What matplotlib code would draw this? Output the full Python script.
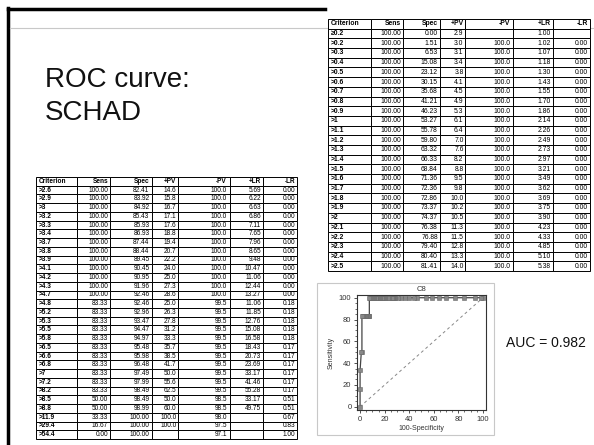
import numpy as np
import matplotlib
matplotlib.use("Agg")
from matplotlib import pyplot as plt
from matplotlib.table import Table
from matplotlib.lines import Line2D
from matplotlib.patches import Rectangle
from matplotlib.ticker import MultipleLocator

plt.rcParams['font.family'] = ['Liberation Sans', 'DejaVu Sans']

# criterion table (MedCalc style), first 25 rows go in the right table
criterion = ["≥0.2", ">0.2", ">0.3", ">0.4", ">0.5", ">0.6", ">0.7", ">0.8", ">0.9", ">1",
             ">1.1", ">1.2", ">1.3", ">1.4", ">1.5", ">1.6", ">1.7", ">1.8", ">1.9", ">2",
             ">2.1", ">2.2", ">2.3", ">2.4", ">2.5",
             ">2.6", ">2.9", ">3", ">3.2", ">3.3", ">3.4", ">3.7", ">3.8", ">3.9", ">4.1",
             ">4.2", ">4.3", ">4.7", ">4.8", ">5.2", ">5.3", ">5.5", ">5.8", ">6.5", ">6.6",
             ">6.8", ">7", ">7.2", ">8.2", ">8.5", ">8.8", ">11.9", ">29.4", ">54.4"]
sens = [100.0] * 38 + [83.33] * 11 + [50.0, 50.0, 33.33, 16.67, 0.0]
spec = [0.00, 1.51, 6.53, 15.08, 23.12, 30.15, 35.68, 41.21, 46.23, 53.27,
        55.78, 59.80, 63.32, 66.33, 68.84, 71.36, 72.36, 72.86, 73.37, 74.37,
        76.38, 76.88, 79.40, 80.40, 81.41,
        82.41, 83.92, 84.92, 85.43, 85.93, 86.93, 87.44, 88.44, 89.45, 90.45,
        90.95, 91.96, 92.46, 92.46, 92.96, 93.47, 94.47, 94.97, 95.48, 95.98,
        96.48, 97.49, 97.99, 98.49, 98.49, 98.99, 100.00, 100.00, 100.00]
ppv = [2.9, 3.0, 3.1, 3.4, 3.8, 4.1, 4.5, 4.9, 5.3, 6.1,
       6.4, 7.0, 7.6, 8.2, 8.8, 9.5, 9.8, 10.0, 10.2, 10.5,
       11.3, 11.5, 12.8, 13.3, 14.0,
       14.6, 15.8, 16.7, 17.1, 17.6, 18.8, 19.4, 20.7, 22.2, 24.0,
       25.0, 27.3, 28.6, 25.0, 26.3, 27.8, 31.2, 33.3, 35.7, 38.5,
       41.7, 50.0, 55.6, 62.5, 50.0, 60.0, 100.0, 100.0, None]
npv = [None] + [100.0] * 37 + [99.5] * 11 + [98.5, 98.5, 98.0, 97.5, 97.1]
plr = [1.00, 1.02, 1.07, 1.18, 1.30, 1.43, 1.55, 1.70, 1.86, 2.14,
       2.26, 2.49, 2.73, 2.97, 3.21, 3.49, 3.62, 3.69, 3.75, 3.90,
       4.23, 4.33, 4.85, 5.10, 5.38,
       5.69, 6.22, 6.63, 6.86, 7.11, 7.65, 7.96, 8.65, 9.48, 10.47,
       11.06, 12.44, 13.27, 11.06, 11.85, 12.76, 15.08, 16.58, 18.43, 20.73,
       23.69, 33.17, 41.46, 55.28, 33.17, 49.75, None, None, None]
nlr = [None] + [0.00] * 37 + [0.18] * 5 + [0.17] * 6 + [0.51, 0.51, 0.67, 0.83, 1.00]

headers = ["Criterion", "Sens", "Spec", "+PV", "-PV", "+LR", "-LR"]
title_lines = ["ROC curve:", "SCHAD"]
auc = 0.982

W, H = 594, 445
fig = plt.figure(figsize=(W / 100, H / 100), dpi=100)


def fig_rect(x0, y0, x1, y1):
    # pixel box (top-left origin) -> figure fraction
    return [x0 / W, 1 - y1 / H, (x1 - x0) / W, (y1 - y0) / H]


def fmt(v, nd):
    return "" if v is None else f"{v:.{nd}f}"


def draw_table(rows, edges_px, top, bottom, fsize):
    ax = fig.add_axes(fig_rect(edges_px[0], top, edges_px[-1], bottom), zorder=3)
    ax.axis("off")
    widths = np.diff(edges_px) / (edges_px[-1] - edges_px[0])
    n = len(rows) + 1
    tb = Table(ax, bbox=[0, 0, 1, 1])
    body = [headers] + [[criterion[i], fmt(sens[i], 2), fmt(spec[i], 2), fmt(ppv[i], 1),
                         fmt(npv[i], 1), fmt(plr[i], 2), fmt(nlr[i], 2)] for i in rows]
    for r, line in enumerate(body):
        for c, txt in enumerate(line):
            cell = tb.add_cell(r, c, widths[c], 1 / n, text=txt,
                               loc="left" if c == 0 else "right",
                               facecolor="white", edgecolor="black")
            cell.set_linewidth(0.7)
            cell.PAD = 0.06
            if r == 0 or c == 0:
                cell.get_text().set_fontweight("bold")
    tb.auto_set_font_size(False)
    tb.set_fontsize(fsize)
    ax.add_table(tb)


# slide frame
fig.add_artist(Line2D([8 / W, 8 / W], [0, 1 - 8 / H], color="black", lw=2.5))
fig.add_artist(Line2D([8 / W, 325 / W], [1 - 9 / H, 1 - 9 / H], color="black", lw=2.5))
fig.add_artist(Line2D([10 / W, 1], [1 - 28 / H, 1 - 28 / H], color="#c8c8c8", lw=0.8))

for line, base in zip(title_lines, [87, 120]):
    fig.text(45 / W, 1 - base / H, line, fontsize=20, ha="left", va="baseline",
             color="#111111")

draw_table(range(0, 25), [328, 371, 403, 440, 465, 513, 553, 590], 19, 271, 4.9)
draw_table(range(25, 54), [36, 77, 110, 152, 178, 230, 263, 297], 177, 439, 4.7)

# ROC panel
fig.add_artist(Rectangle((317 / W, 1 - 435 / H), 177 / W, 152 / H, transform=fig.transFigure,
                         fill=False, edgecolor="#c8c8c8", lw=0.8))
ax = fig.add_axes(fig_rect(357, 295, 486, 410))
x = 100 - np.array(spec)
y = np.array(sens)
ax.plot([0, 100], [0, 100], ls=(0, (3, 3)), color="#888888", lw=0.7)
ax.plot(x, y, color="#444444", lw=0.9, marker="s", markersize=2.2,
        markerfacecolor="#888888", markeredgecolor="#666666", markeredgewidth=0.4)
ax.set_xlim(-2.5, 102.5)
ax.set_ylim(-3, 102.5)
ax.set_xticks(range(0, 101, 20))
ax.set_yticks(range(0, 101, 20))
ax.xaxis.set_minor_locator(MultipleLocator(5))
ax.yaxis.set_minor_locator(MultipleLocator(5))
ax.tick_params(which="major", length=2.5, width=0.6, labelsize=5.5, colors="#333333", pad=1.5)
ax.tick_params(which="minor", length=1.5, width=0.5, colors="#333333")
for s in ax.spines.values():
    s.set_linewidth(0.8)
    s.set_color("#333333")
ax.set_xlabel("100-Specificity", fontsize=5, color="#333333", labelpad=1.5)
ax.set_ylabel("Sensitivity", fontsize=5, color="#333333", labelpad=3)
ax.set_title("C8", fontsize=5.5, color="#333333", pad=3)

fig.text(506 / W, 1 - 343 / H, f"AUC = {auc}", fontsize=10, ha="left", va="center",
         color="#111111")

fig.savefig("out.png", dpi=100)
